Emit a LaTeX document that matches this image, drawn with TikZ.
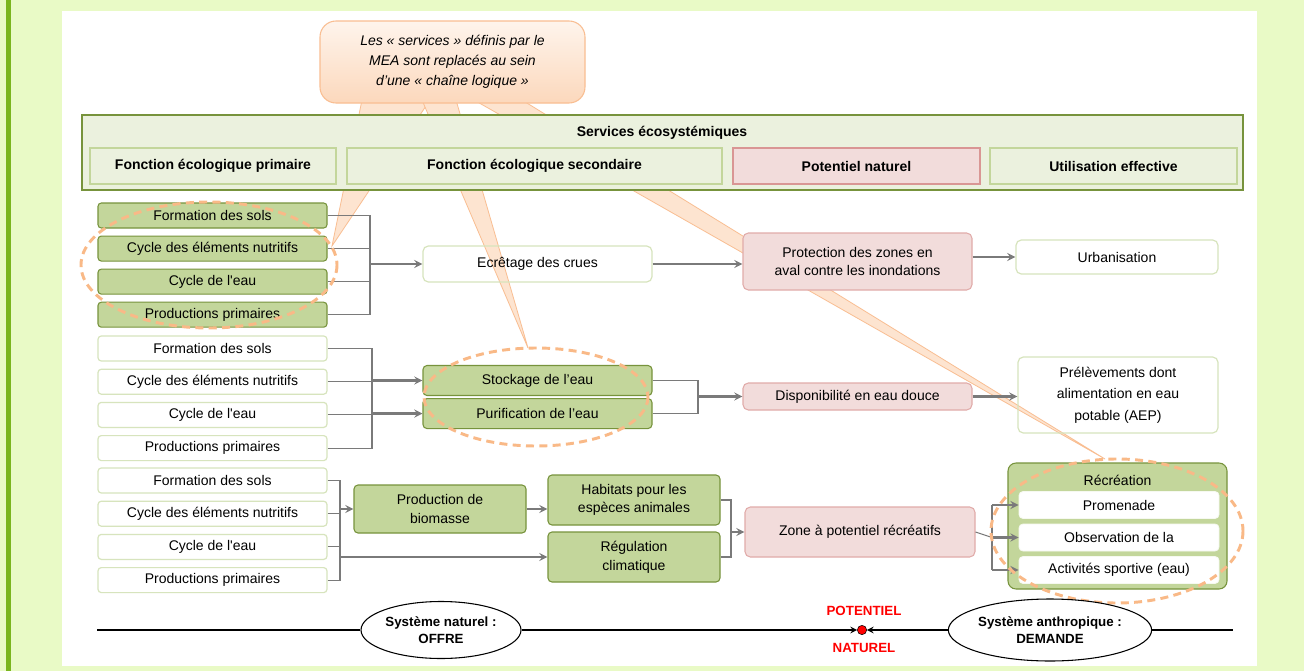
\documentclass[tikz,border=0pt]{standalone}
\usepackage{fontspec}
\setmainfont{Liberation Sans}
\usepackage{xcolor}
\usepackage{tikz}
\usetikzlibrary{positioning,shapes,arrows}
\definecolor{pageGreen}{HTML}{E9FAC6}
\definecolor{barGreen}{HTML}{7AB51E}
\definecolor{mgOlive}{HTML}{77933C}
\definecolor{mgGreen}{HTML}{C3D69B}
\definecolor{mgPaleFill}{HTML}{EBF1DE}
\definecolor{mgPale}{HTML}{D7E4BD}
\definecolor{mgPink}{HTML}{F2DCDB}
\definecolor{mgRose}{HTML}{D99694}
\definecolor{lineGray}{HTML}{7A7A7A}
\definecolor{ringOrange}{HTML}{F9B987}
\definecolor{wedgeFill}{HTML}{FDE4D0}
\definecolor{wedgeLine}{HTML}{F9BE92}
\definecolor{noteTop}{HTML}{FEF4EC}
\definecolor{noteBot}{HTML}{FCD8BC}
\newcommand{\apos}{\textquotesingle}
\tikzset{
	% connectors
	link/.style={draw=lineGray, line width=0.8pt},
	arr/.style={->, >=stealth, draw=lineGray, line width=1.7pt},
	axis/.style={draw=black, line width=1.2pt, >=stealth},
	% callout pointers and dashed rings
	wedge/.style={fill=wedgeFill, draw=wedgeLine, line width=0.6pt},
	ring/.style={draw=ringOrange, line width=2.2pt, dash pattern=on 6pt off 4pt}
}

\begin{document}
\begin{tikzpicture}[x=0.75pt, y=-0.75pt, font=\fontsize{10.5}{14}\selectfont,
	primbox/.style={rectangle, rounded corners=2.5pt, draw=mgOlive, fill=mgGreen, line width=0.8pt, minimum width=171.75pt, minimum height=18.75pt, inner sep=0pt},
	fnbox/.style={rectangle, rounded corners=2.5pt, draw=mgPale, line width=0.9pt, minimum width=171.75pt, minimum height=18.75pt, inner sep=0pt},
	secbox/.style={rectangle, rounded corners=3pt, draw=mgOlive, fill=mgGreen, line width=0.8pt, align=center, inner sep=0pt},
	potbox/.style={rectangle, rounded corners=4pt, draw=mgRose!80, fill=mgPink, line width=0.8pt, align=center, inner sep=0pt},
	usebox/.style={rectangle, rounded corners=4pt, draw=mgPale, line width=0.9pt, align=center, inner sep=0pt},
	subrec/.style={rectangle, rounded corners=3pt, draw=white!85!mgGreen, fill=white, line width=0.6pt, minimum width=150pt, minimum height=20.25pt, inner sep=0pt},
	colhead/.style={rectangle, draw=mgGreen, fill=mgPaleFill, line width=1.5pt, minimum height=27pt, inner sep=0pt, font=\fontsize{10.5}{14}\selectfont\bfseries},
	syst/.style={ellipse, draw=black, fill=white, line width=0.8pt, inner sep=0pt, align=center, font=\fontsize{10}{13}\selectfont\bfseries},
	]
	\useasboundingbox (0,0) rectangle (1304,671);
	
	%Background
	\fill[pageGreen] (0,0) rectangle (1304,671);
	\fill[barGreen] (6,0) rectangle (11,671);
	\fill[white] (62,11) rectangle (1257,666);
	
	%Callout pointers
	\draw[wedge] (362,100) -- (430,100) -- (332,246) -- cycle;
	\draw[wedge] (422,100) -- (456,100) -- (528,348) -- cycle;
	\draw[wedge] (474,100) -- (522,100) -- (1105,459) -- cycle;
	
	%Callout
	\node[rectangle, rounded corners=12pt, draw=wedgeLine, line width=0.8pt, top color=noteTop, bottom color=noteBot, minimum width=198.75pt, minimum height=61.5pt, align=center, font=\fontsize{10.5}{15}\selectfont\itshape] (note) at (452.5,62) {Les « services » définis par le\\MEA sont replacés au sein\\d’une « chaîne logique »};
	
	%Header
	\node[rectangle, draw=mgOlive, fill=mgPaleFill, line width=1.5pt, minimum width=870.75pt, minimum height=56.25pt] (hdr) at (662.5,152.5) {};
	\node[font=\fontsize{10.5}{14}\selectfont\bfseries] (hdrtitle) at (662,133) {Services écosystémiques};
	\node[colhead, minimum width=184.5pt] (fep) at (213,166) {Fonction écologique primaire};
	\node[colhead, minimum width=281.25pt] (fes) at (534.5,166) {Fonction écologique secondaire};
	\node[colhead, draw=mgRose, fill=mgPink, minimum width=185.25pt] (pn) at (856.5,166) {Potentiel naturel};
	\node[colhead, minimum width=185.25pt] (ue) at (1113.5,166) {Utilisation effective};
	
	%Nodes - flood chain
	\node[primbox] (sols1) at (212.5,215.5) {Formation des sols};
	\node[primbox] (nutri1) [below=5.25pt of sols1] {Cycle des éléments nutritifs};
	\node[primbox] (eau1) [below=5.25pt of nutri1] {Cycle de l\apos eau};
	\node[primbox] (prod1) [below=5.25pt of eau1] {Productions primaires};
	\node[usebox, minimum width=171.75pt, minimum height=27pt] (ecret) at (537.5,264) {Ecrêtage des crues};
	\node[potbox, minimum width=171.75pt, minimum height=42.75pt] (protec) at (857.5,261.5) {Protection des zones en\\aval contre les inondations};
	\node[usebox, minimum width=151.5pt, minimum height=25.5pt] (urban) at (1117,257) {Urbanisation};
	\coordinate (bus1) at (370,264);
	
	%Nodes - water chain
	\node[fnbox] (sols2) at (212.5,348.5) {Formation des sols};
	\node[fnbox] (nutri2) [below=5.25pt of sols2] {Cycle des éléments nutritifs};
	\node[fnbox] (eau2) [below=5.25pt of nutri2] {Cycle de l\apos eau};
	\node[fnbox] (prod2) [below=5.25pt of eau2] {Productions primaires};
	\node[secbox, minimum width=171.75pt, minimum height=22.5pt] (stock) at (537.5,380.5) {Stockage de l’eau};
	\node[secbox, minimum width=171.75pt, minimum height=22.5pt] (purif) [below=1.5pt of stock] {Purification de l’eau};
	\node[potbox, minimum width=171.75pt, minimum height=20.25pt] (dispo) at (857.5,396.5) {Disponibilité en eau douce};
	\node[usebox, minimum width=150pt, minimum height=57pt, font=\fontsize{10.5}{16}\selectfont] (prelev) at (1118,395) {Prélèvements dont\\alimentation en eau\\potable (AEP)};
	\coordinate (bus2) at (372,397);
	\coordinate (busS) at (698,396.5);
	
	%Nodes - recreation chain
	\node[fnbox] (sols3) at (212.5,480.5) {Formation des sols};
	\node[fnbox] (nutri3) [below=5.25pt of sols3] {Cycle des éléments nutritifs};
	\node[fnbox] (eau3) [below=5.25pt of nutri3] {Cycle de l\apos eau};
	\node[fnbox] (prod3) [below=5.25pt of eau3] {Productions primaires};
	\node[secbox, minimum width=129pt, minimum height=36pt] (biomasse) at (440,509) {Production de\\biomasse};
	\node[secbox, minimum width=129pt, minimum height=37.5pt] (habitat) at (634,500) {Habitats pour les\\espèces animales};
	\node[secbox, minimum width=129pt, minimum height=37.5pt] (climat) at (634,557) {Régulation\\climatique};
	\node[potbox, minimum width=172.5pt, minimum height=37.5pt] (zone) at (860,532) {Zone à potentiel récréatifs};
	\node[secbox, rounded corners=6pt, minimum width=164.25pt, minimum height=94.5pt] (recre) at (1117.5,526) {};
	\node (recretitle) at (1117.5,480) {Récréation};
	\node[subrec] (prom) at (1119,505) {Promenade};
	\node[subrec] (obs) at (1119,537.5) {Observation de la};
	\node[subrec] (sport) at (1119,570) {Activités sportive (eau)};
	\coordinate (bus3) at (340,528.5);
	\coordinate (bus4) at (731,532);
	\coordinate (bus5) at (992,537.5);
	
	%Lines - flood chain
	\draw[link] (sols1.east) -| (bus1);
	\draw[link] (prod1.east) -| (bus1);
	\draw[link] (nutri1.east) -- (bus1 |- nutri1.east);
	\draw[link] (eau1.east) -- (bus1 |- eau1.east);
	\draw[arr] (bus1) -- (ecret.west);
	\draw[arr] (ecret.east) -- (ecret.east -| protec.west);
	\draw[arr] (protec.east |- urban.west) -- (urban.west);
	
	%Lines - water chain
	\draw[link] (sols2.east) -| (bus2);
	\draw[link] (prod2.east) -| (bus2);
	\draw[link] (nutri2.east) -- (bus2 |- nutri2.east);
	\draw[link] (eau2.east) -- (bus2 |- eau2.east);
	\draw[arr] (bus2 |- stock.west) -- (stock.west);
	\draw[arr] (bus2 |- purif.west) -- (purif.west);
	\draw[link] (stock.east) -| (busS);
	\draw[link] (purif.east) -| (busS);
	\draw[arr] (busS) -- (dispo.west);
	\draw[arr] (dispo.east) -- (dispo.east -| prelev.west);
	
	%Lines - recreation chain
	\draw[link] (sols3.east) -| (bus3);
	\draw[link] (prod3.east) -| (bus3);
	\draw[link] (nutri3.east) -- (bus3 |- nutri3.east);
	\draw[link] (eau3.east) -- (bus3 |- eau3.east);
	\draw[arr] (bus3 |- biomasse.west) -- (biomasse.west);
	\draw[arr] (bus3 |- climat.west) -- (climat.west);
	\draw[arr] (biomasse.east) -- (biomasse.east -| habitat.west);
	\draw[link] (habitat.east) -| (bus4);
	\draw[link] (climat.east) -| (bus4);
	\draw[arr] (bus4) -- (zone.west);
	\draw[link] (zone.east) -- (bus5);
	\draw[link] (bus5 |- prom.west) -- (bus5 |- sport.west);
	\draw[arr] (bus5 |- prom.west) -- (prom.west);
	\draw[arr] (bus5 |- obs.west) -- (obs.west);
	\draw[arr] (bus5 |- sport.west) -- (sport.west);
	
	%Dashed rings
	\draw[ring] (209,265) ellipse [x radius=128, y radius=63];
	\draw[ring] (536,397) ellipse [x radius=112, y radius=49];
	\draw[ring] (1117,531) ellipse [x radius=126, y radius=72];
	
	%Supply / demand axis
	\coordinate (axl) at (97,630);
	\coordinate (axr) at (1233,630);
	\node[syst, minimum width=120pt, minimum height=42.75pt] (nat) at (441,630) {Système naturel :\\OFFRE};
	\node[syst, minimum width=152.25pt, minimum height=46.5pt] (anthro) at (1050,630) {Système anthropique :\\DEMANDE};
	\node[circle, fill=red, draw=black, line width=0.4pt, minimum size=7pt, inner sep=0pt] (dot) at (862,630) {};
	\node[text=red, font=\fontsize{10}{12}\selectfont\bfseries] (potlbl) at (864,611) {POTENTIEL};
	\node[text=red, font=\fontsize{10}{12}\selectfont\bfseries] (natlbl) at (864,648) {NATUREL};
	\draw[axis] (axl) -- (nat);
	\draw[axis, ->] (nat) -- (dot);
	\draw[axis, ->] (anthro) -- (dot);
	\draw[axis] (anthro) -- (axr);
\end{tikzpicture}
\end{document}
